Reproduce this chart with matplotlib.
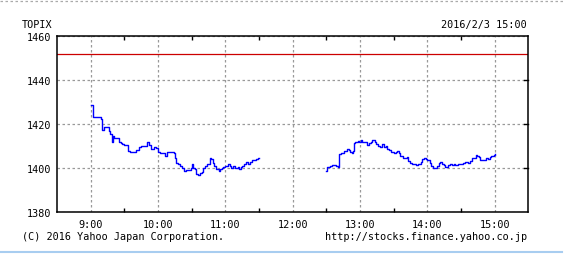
import matplotlib
matplotlib.use("Agg")
import matplotlib.pyplot as plt
from matplotlib.lines import Line2D
import numpy as np

# ---- data -------------------------------------------------------------
am_times = ["9:00","9:02","9:04","9:09","9:10","9:12","9:16","9:17","9:19","9:20",
            "9:21","9:25","9:27","9:28","9:30","9:33","9:35","9:40","9:43","9:45",
            "9:50","9:52","9:54","9:56","9:58","10:00","10:02","10:06","10:08","10:11",
            "10:14","10:15","10:16","10:18","10:20","10:21","10:23","10:25","10:27","10:29",
            "10:30","10:31","10:33","10:34","10:36","10:37","10:39","10:40","10:42","10:44",
            "10:46","10:47","10:49","10:50","10:52","10:54","10:55","10:57","10:58","11:00",
            "11:02","11:04","11:05","11:07","11:09","11:11","11:12","11:14","11:15","11:17",
            "11:18","11:20","11:22","11:24","11:27","11:29","11:30"]
am_values = [1428.9,1423.2,1423.5,1422.4,1417.6,1418.6,1416.8,1415.6,1411.8,1414.8,
             1413.6,1412.1,1411.4,1411.1,1410.8,1408.0,1407.3,1408.3,1409.5,1410.0,
             1412.1,1410.6,1408.8,1409.8,1409.1,1407.3,1406.8,1405.8,1407.6,1407.3,
             1407.0,1404.5,1402.6,1401.8,1401.1,1400.3,1398.8,1399.1,1399.2,1400.3,
             1402.1,1400.0,1399.5,1397.6,1397.0,1398.0,1398.5,1400.3,1401.2,1402.1,
             1404.8,1404.1,1402.6,1401.1,1399.5,1398.8,1399.5,1400.0,1400.5,1400.9,
             1401.8,1401.2,1400.3,1400.9,1400.3,1400.6,1399.7,1400.5,1401.1,1402.1,
             1403.0,1402.1,1403.0,1403.9,1404.1,1404.5,1404.5]

pm_times = ["12:30","12:31","12:33","12:35","12:37","12:39","12:40","12:41","12:43","12:45",
            "12:46","12:48","12:50","12:51","12:53","12:54","12:55","12:56","12:58","12:59",
            "13:01","13:02","13:04","13:06","13:08","13:10","13:11","13:13","13:14","13:16",
            "13:18","13:20","13:21","13:23","13:24","13:26","13:28","13:30","13:32","13:33",
            "13:35","13:36","13:38","13:40","13:42","13:43","13:45","13:46","13:50","13:52",
            "13:54","13:55","13:57","13:59","14:00","14:02","14:03","14:05","14:09","14:10",
            "14:11","14:13","14:15","14:16","14:18","14:20","14:22","14:24","14:25","14:27",
            "14:29","14:31","14:32","14:34","14:36","14:38","14:40","14:43","14:44","14:46",
            "14:47","14:51","14:52","14:54","14:56","14:57","14:59","15:00"]
pm_values = [1398.9,1400.5,1400.9,1401.7,1401.5,1401.2,1400.5,1406.5,1406.8,1407.0,
             1408.0,1408.8,1408.5,1407.3,1407.0,1408.0,1411.5,1412.1,1412.6,1412.1,
             1412.9,1411.8,1412.1,1410.8,1411.5,1411.8,1413.0,1412.1,1411.1,1410.0,
             1409.8,1411.1,1409.5,1410.0,1408.8,1408.5,1407.3,1407.0,1407.3,1407.7,
             1407.0,1405.5,1404.8,1404.6,1405.0,1403.5,1402.4,1402.1,1401.5,1401.8,
             1402.7,1404.2,1404.5,1404.2,1403.9,1402.4,1401.2,1400.2,1401.2,1402.4,
             1403.0,1402.0,1401.7,1400.5,1401.5,1401.8,1401.5,1402.1,1401.5,1401.8,
             1402.1,1401.8,1402.4,1402.7,1402.4,1403.5,1404.5,1406.2,1405.8,1405.0,
             1403.8,1403.9,1404.8,1404.2,1405.0,1405.5,1406.2,1406.4]

prev_close = 1451.8
hour_ticks = [9, 10, 11, 12, 13, 14, 15]
hour_labels = ["9:00", "10:00", "11:00", "12:00", "13:00", "14:00", "15:00"]
y_ticks = [1380, 1400, 1420, 1440, 1460]
title_left = "TOPIX"
title_right = "2016/2/3 15:00"
footer_left = "(C) 2016 Yahoo Japan Corporation."
footer_right = "http://stocks.finance.yahoo.co.jp"


def to_hours(ts):
    out = []
    for t in ts:
        h, m = t.split(":")
        out.append(int(h) + int(m) / 60.0)
    return np.array(out)


# ---- figure -----------------------------------------------------------
W, H = 564, 255
fig = plt.figure(figsize=(W / 100, H / 100), dpi=100)
fig.patch.set_facecolor("white")

L, R, T, B = 57, 528.3, 37.3, 213.3
ax = fig.add_axes([L / W, 1 - B / H, (R - L) / W, (B - T) / H])

FONT = "DejaVu Sans Mono"
FS = 7.3

ax.plot(to_hours(am_times), am_values, drawstyle="steps-post", color="#0000ff", lw=1.0)
ax.plot(to_hours(pm_times), pm_values, drawstyle="steps-post", color="#0000ff", lw=1.0)
ax.axhline(prev_close, color="#cc0000", lw=0.9)

ax.set_xlim(8.5, 15.5)
ax.set_ylim(1380, 1460)

ax.set_xticks(hour_ticks)
ax.set_xticklabels(hour_labels, fontfamily=FONT, fontsize=FS)
ax.set_xticks(np.arange(9.5, 15.5, 1.0), minor=True)
ax.set_yticks(y_ticks)
ax.set_yticklabels([str(v) for v in y_ticks], fontfamily=FONT, fontsize=FS)

ax.tick_params(axis="x", which="major", length=0, pad=5)
ax.tick_params(axis="x", which="minor", direction="in", length=3, width=1,
               top=True, bottom=True)
ax.tick_params(axis="y", which="major", direction="in", length=0, pad=4,
               left=True, right=False)

# right-side inward ticks
for v in y_ticks[1:-1]:
    ax.plot([15.5 - 0.06, 15.5], [v, v], color="black", lw=1.0, clip_on=False)

ax.grid(True, which="major", color="#999999", lw=0.9, linestyle=(0, (2, 2)))
for s in ax.spines.values():
    s.set_linewidth(1.1)
    s.set_color("black")

fig.text(22 / W, 1 - 25 / H, title_left, fontfamily=FONT, fontsize=FS,
         ha="left", va="center")
fig.text(527 / W, 1 - 25 / H, title_right, fontfamily=FONT, fontsize=FS,
         ha="right", va="center")
fig.text(22.5 / W, 1 - 237.5 / H, footer_left, fontfamily=FONT, fontsize=FS,
         ha="left", va="center")
fig.text(527 / W, 1 - 237.5 / H, footer_right, fontfamily=FONT, fontsize=FS,
         ha="right", va="center")

# decorative frame lines
fig.add_artist(Line2D([0, 1], [1 - 2 / H, 1 - 2 / H], color="#aaaaaa", lw=0.9,
                      linestyle=(0, (2, 2))))
fig.add_artist(Line2D([0, 562 / W], [1 - 252.5 / H, 1 - 252.5 / H],
                      color="#a8cdf0", lw=1.5))

fig.savefig("out.png", dpi=100)
